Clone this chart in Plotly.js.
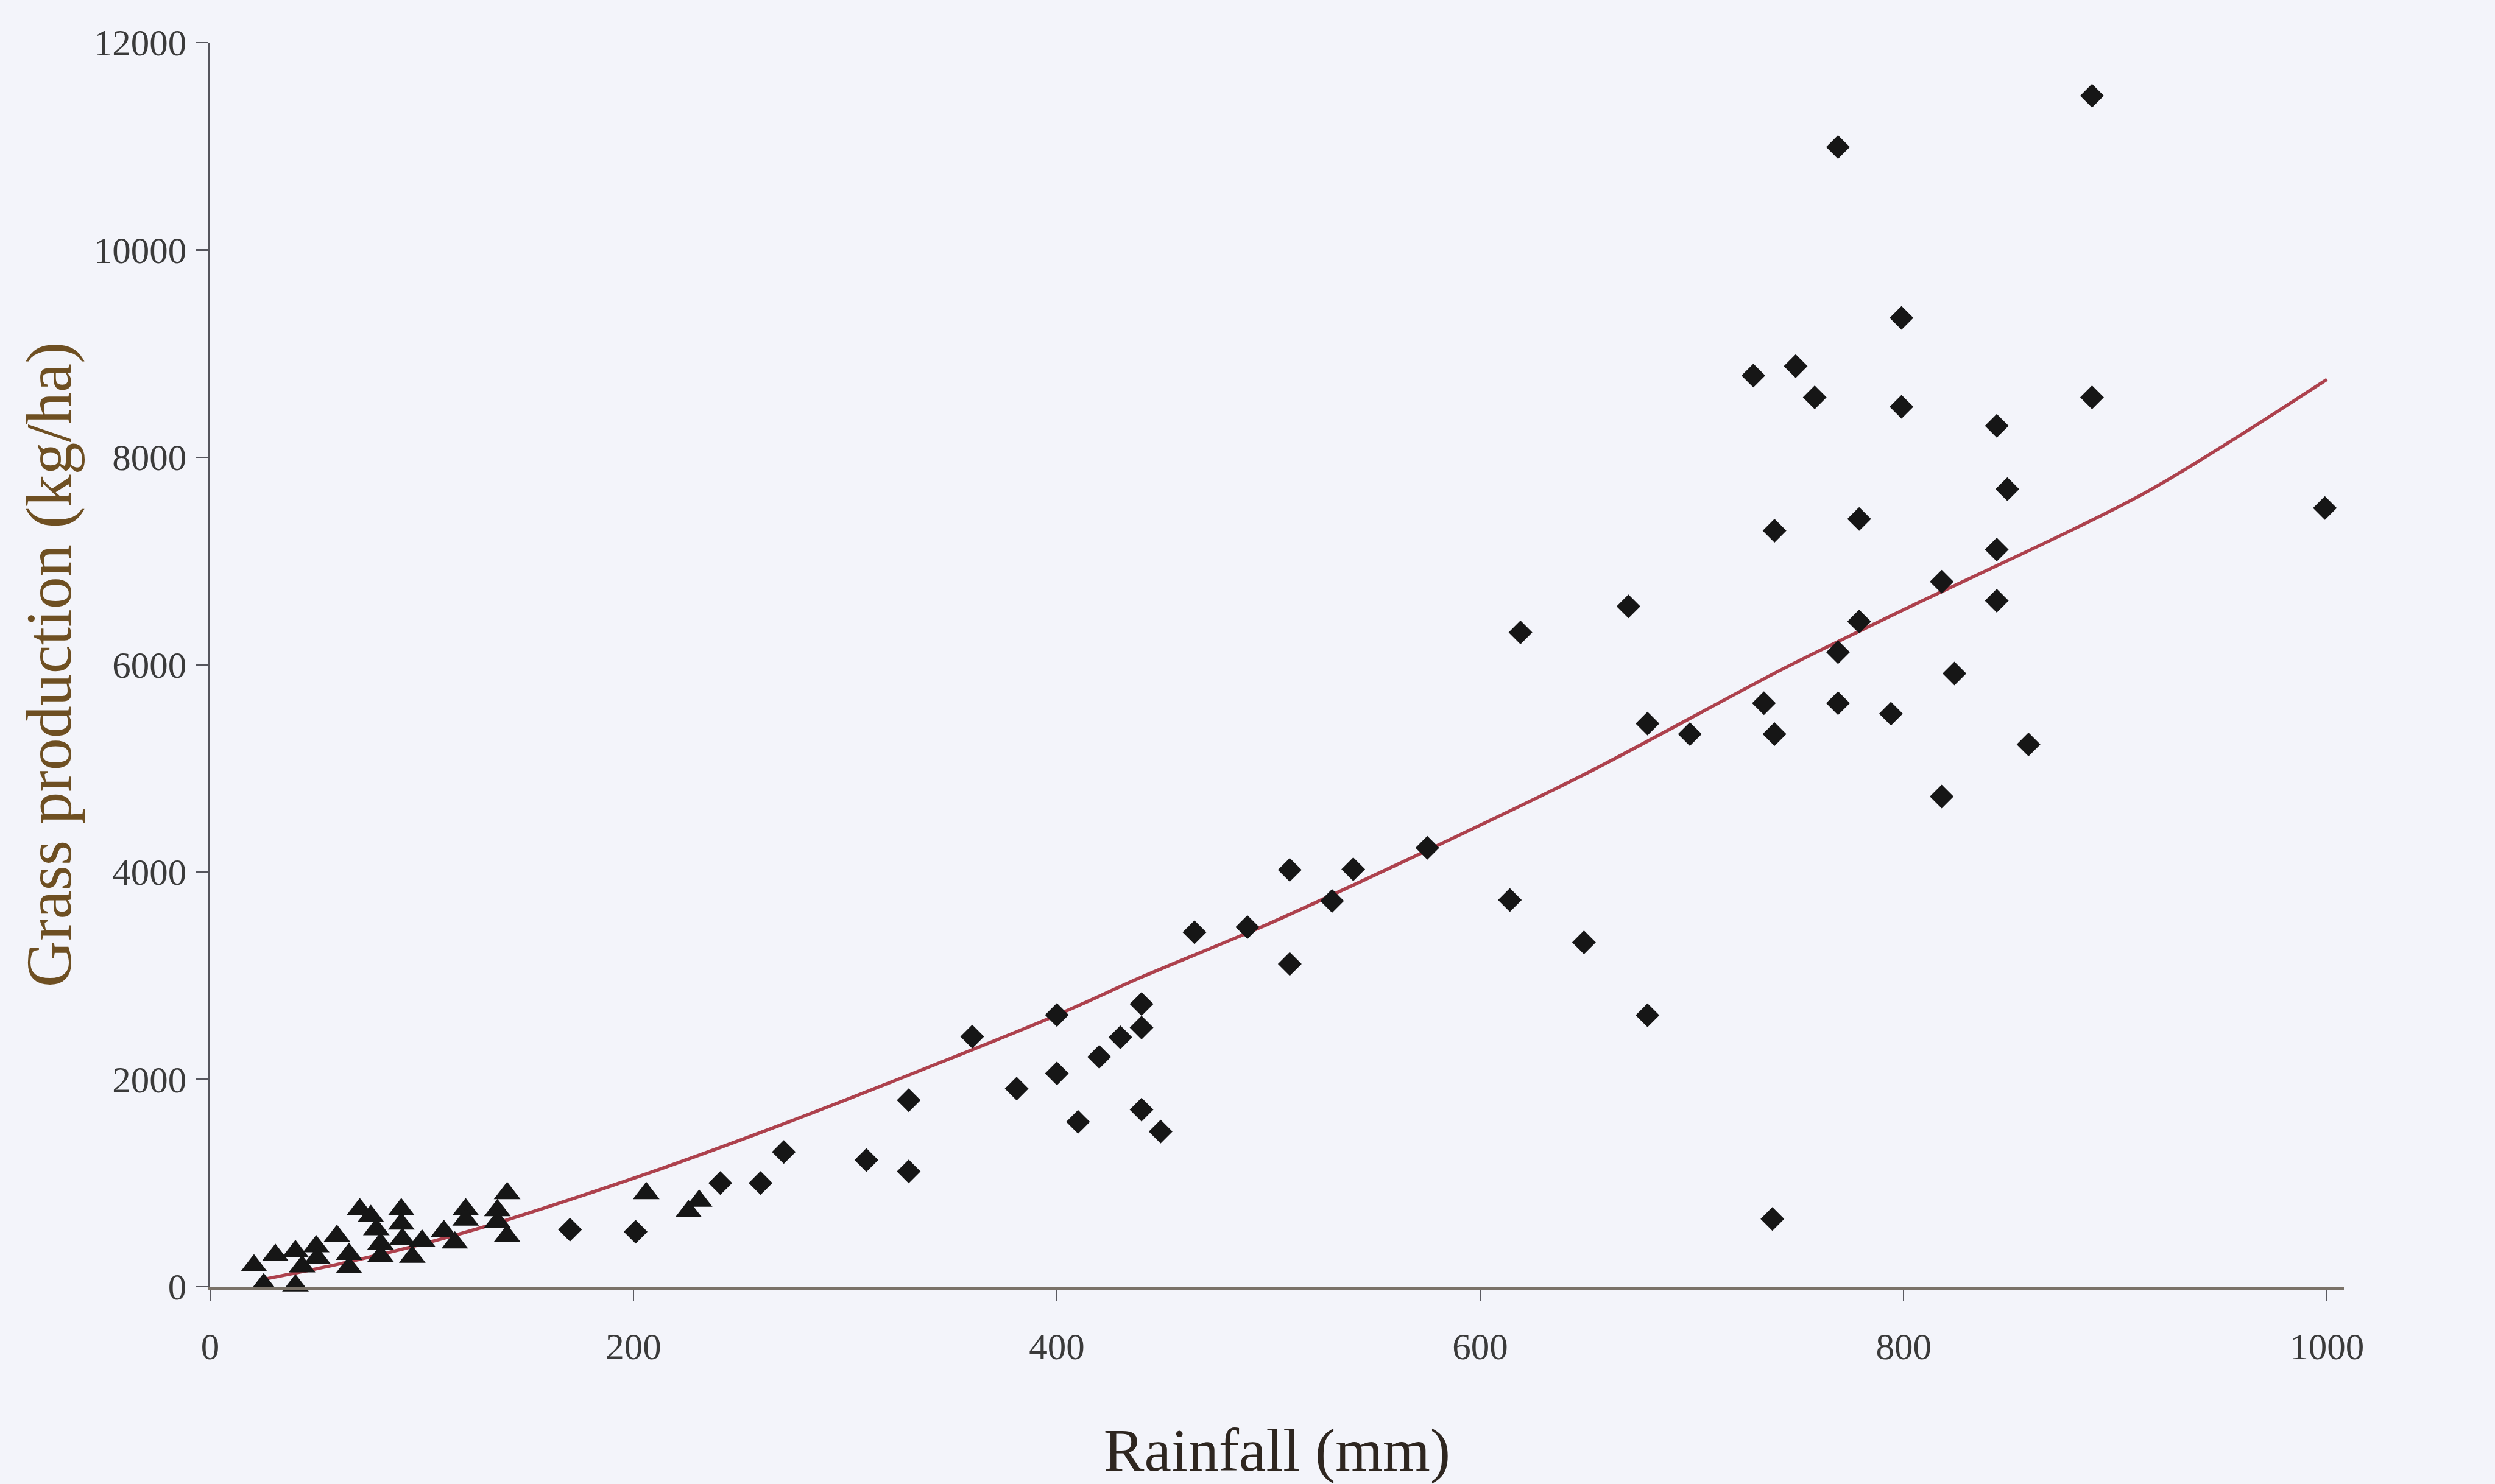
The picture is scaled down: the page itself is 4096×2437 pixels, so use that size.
<!DOCTYPE html>
<html>
<head>
<meta charset="utf-8">
<script src="https://cdn.plot.ly/plotly-3.0.1.min.js"></script>
<style>html,body{margin:0;padding:0;background:#f3f4fa;}#chart{width:4096px;height:2437px;}</style>
</head>
<body>
<div id="chart"></div>
<script>
// Zone data: diamonds (one zone) and triangles (other zone)
const diamondRainfall = [170, 201, 241, 260, 271, 310, 330, 330, 360, 381, 400, 400, 410, 420, 430, 440, 440, 440, 449, 465, 490, 510, 510, 530, 540, 575, 614, 649, 679, 619, 670, 679, 699, 729, 749, 758, 739, 734, 739, 769, 769, 779, 779, 799, 799, 794, 818, 824, 818, 844, 849, 844, 844, 859, 889, 999, 889, 769, 738];
const diamondGrass    = [550, 530, 1000, 1000, 1300, 1222, 1111, 1799, 2413, 1910, 2621, 2057, 1590, 2217, 2406, 2727, 2499, 1708, 1497, 3419, 3469, 4021, 3113, 3721, 4026, 4233, 3730, 3322, 2618, 6311, 6563, 5431, 5331, 8788, 8879, 8578, 7292, 5628, 5331, 6120, 5628, 7406, 6416, 9345, 8487, 5527, 6800, 5915, 4729, 8304, 7693, 7110, 6617, 5231, 8578, 7511, 11488, 10993, 653];

const triangleRainfall = [20.7, 25.3, 30.8, 40.3, 43.4, 40.3, 50.1, 50.6, 59.9, 70.7, 75.9, 78.5, 80.5, 80.5, 65.6, 65.6, 90.3, 90.3, 90.8, 95.5, 100.1, 110.4, 115.6, 120.7, 120.7, 140.3, 135.7, 135.7, 140.3, 206, 226, 231];
const triangleGrass    = [203, 20, 304, 341, 194, 10, 387, 277, 488, 744, 680, 552, 414, 295, 314, 185, 744, 607, 460, 286, 442, 534, 424, 744, 644, 900, 735, 625, 488, 900, 726, 827];

// Regression curve
const curveRainfall = [25, 60, 100, 140, 208, 286, 400, 439, 500, 574, 650, 744, 800, 914, 1000];
const curveGrass    = [70, 215, 410, 643, 1102, 1689, 2620, 2978, 3500, 4200, 4950, 5970, 6530, 7657, 8752];

const xTicks = [0, 200, 400, 600, 800, 1000];
const yTicks = [0, 2000, 4000, 6000, 8000, 10000, 12000];

const serif = '"Liberation Serif", "Times New Roman", serif';

const traces = [
  {
    x: curveRainfall, y: curveGrass, type: 'scatter', mode: 'lines',
    line: {color: '#ad414d', width: 5.5, shape: 'spline', smoothing: 0.8},
    hoverinfo: 'skip', showlegend: false
  },
  {
    x: triangleRainfall, y: triangleGrass, type: 'scatter', mode: 'markers',
    marker: {symbol: 'triangle-up', size: 38, color: '#161616'},
    cliponaxis: false, showlegend: false
  },
  {
    x: diamondRainfall, y: diamondGrass, type: 'scatter', mode: 'markers',
    marker: {symbol: 'diamond', size: 30, color: '#161616'},
    cliponaxis: false, showlegend: false
  }
];

const layout = {
  width: 4096, height: 2437,
  paper_bgcolor: '#f3f4fa', plot_bgcolor: '#f3f4fa',
  margin: {l: 345.4, r: 248.2, t: 70.2, b: 324.4},
  showlegend: false,
  font: {family: serif, color: '#3a3a3a'},
  xaxis: {
    range: [0, 1008], autorange: false,
    tickvals: xTicks, ticktext: xTicks.map(String),
    showgrid: false, zeroline: false,
    showline: true, linecolor: '#7a7268', linewidth: 5,
    ticks: 'outside', ticklen: 19, tickwidth: 2.5, tickcolor: '#5a5a60',
    tickfont: {family: serif, size: 61, color: '#3a3a3a'},
    ticklabelstandoff: 22,
    title: {text: 'Rainfall (mm)', font: {family: serif, size: 100, color: '#2e2620'}, standoff: 113},
    automargin: false
  },
  yaxis: {
    range: [0, 12000], autorange: false,
    tickvals: yTicks, ticktext: yTicks.map(String),
    showgrid: false, zeroline: false,
    showline: true, linecolor: '#55555d', linewidth: 3.5,
    ticks: 'outside', ticklen: 20, tickwidth: 2.5, tickcolor: '#55555d',
    tickfont: {family: serif, size: 61, color: '#3a3a3a'},
    ticklabelstandoff: 3,
    title: {text: 'Grass production (kg/ha)', font: {family: serif, size: 106, color: '#6e4f22'}, standoff: 2},
    automargin: false
  }
};

Plotly.newPlot('chart', traces, layout, {staticPlot: true, displayModeBar: false});
</script>
</body>
</html>
